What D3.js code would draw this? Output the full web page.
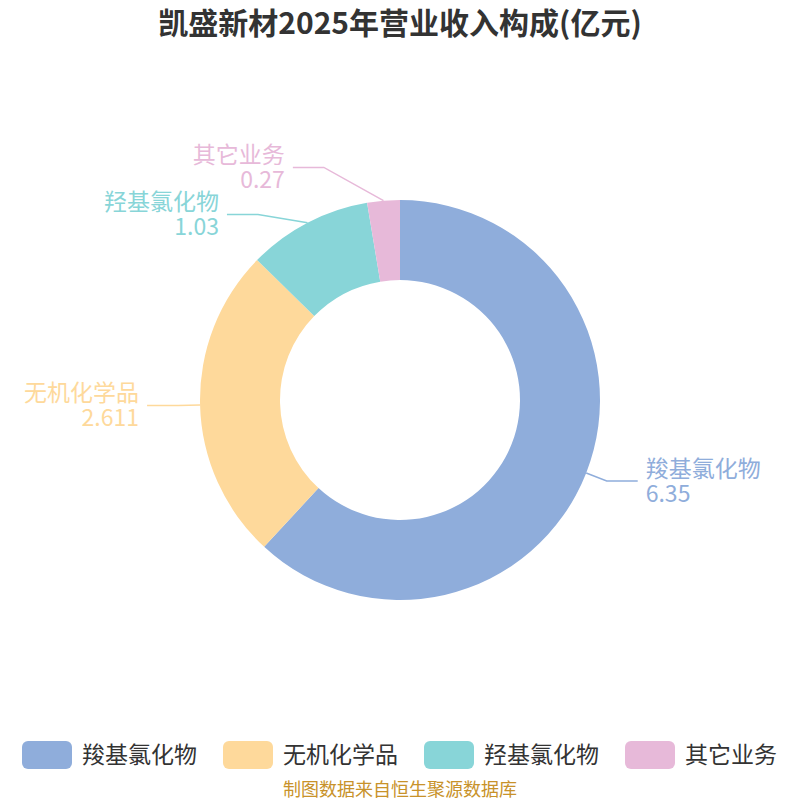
<!DOCTYPE html>
<html>
<head>
<meta charset="utf-8">
<script src="https://cdn.jsdelivr.net/npm/d3@7"></script>
<style>
  body { margin: 0; background: #fff; }
  svg { font-family: "Noto Sans CJK SC", "Noto Sans", sans-serif; }
</style>
</head>
<body>
<div id="chart"></div>
<script>
// data
const categories = ["羧基氯化物", "无机化学品", "羟基氯化物", "其它业务"];
const values = [6.35, 2.611, 1.03, 0.27];
const valueLabels = ["6.35", "2.611", "1.03", "0.27"];
const colors = ["#8faddb", "#fed99b", "#88d5d8", "#e7b9d9"];

const width = 800;
const height = 800;
const cx = 400;
const cy = 400;
const outerR = 200;
const innerR = 120;

const svg = d3.create("svg").attr("width", width).attr("height", height);

// title
svg.append("text")
  .attr("x", width / 2)
  .attr("y", 34)
  .attr("text-anchor", "middle")
  .attr("font-size", 30)
  .attr("font-weight", "bold")
  .attr("fill", "#333")
  .text("凯盛新材2025年营业收入构成(亿元)");

const pie = d3.pie().sort(null).value((d) => d.value);
const arcs = pie(categories.map((c, i) => ({ name: c, value: values[i], label: valueLabels[i], color: colors[i] })));

const arc = d3.arc().innerRadius(innerR).outerRadius(outerR);

const g = svg.append("g").attr("transform", `translate(${cx},${cy})`);

g.selectAll("path.slice")
  .data(arcs)
  .join("path")
  .attr("class", "slice")
  .attr("d", arc)
  .attr("fill", (d) => d.data.color);

// label layout: start point on the rim, elbow a bit further out,
// then nudge elbows on the same side apart so the labels do not collide
const len1 = 22;
const len2 = 31;
const minGap = 47;
const items = arcs.map((d) => {
  const a = (d.startAngle + d.endAngle) / 2;
  const sx = Math.sin(a), sy = -Math.cos(a);
  return {
    d,
    side: sx >= 0 ? 1 : -1,
    p0: [outerR * sx, outerR * sy],
    ey: (outerR + len1) * sy,
    ex: (outerR + len1) * sx,
    moved: false
  };
});

[1, -1].forEach((side) => {
  const list = items.filter((it) => it.side === side).sort((a, b) => a.ey - b.ey);
  for (let iter = 0; iter < 50; iter++) {
    for (let i = 1; i < list.length; i++) {
      const gap = list[i].ey - list[i - 1].ey;
      if (gap < minGap) {
        const push = (minGap - gap) / 2;
        list[i].ey += push;
        list[i - 1].ey -= push;
        list[i].moved = list[i - 1].moved = true;
      }
    }
  }
  // shifted elbows slide along an ellipse around the ring
  const ea = 213, eb = 249;
  list.forEach((it) => {
    if (it.moved) {
      const k = Math.max(0, 1 - (it.ey / eb) ** 2);
      it.ex = side * ea * Math.sqrt(k);
    }
  });
});

items.forEach((it) => {
  const endX = it.ex + it.side * len2;
  g.append("polyline")
    .attr("points", [it.p0, [it.ex, it.ey], [endX, it.ey]].map((p) => p.join(",")).join(" "))
    .attr("fill", "none")
    .attr("stroke", it.d.data.color)
    .attr("stroke-width", 1.5);

  const tx = endX + it.side * 8;
  const t = g.append("text")
    .attr("text-anchor", it.side > 0 ? "start" : "end")
    .attr("fill", it.d.data.color)
    .attr("font-size", 23);
  t.append("tspan").attr("x", tx).attr("y", it.ey - 4).text(it.d.data.name);
  t.append("tspan").attr("x", tx).attr("y", it.ey + 21).text(it.d.data.label);
});

// legend
const legendX = d3.scalePoint().domain(categories).range([22, 625]);
const legend = svg.append("g")
  .selectAll("g")
  .data(categories)
  .join("g")
  .attr("transform", (d) => `translate(${legendX(d)},741)`);

legend.append("rect")
  .attr("width", 50)
  .attr("height", 28)
  .attr("rx", 6)
  .attr("fill", (d, i) => colors[i]);

legend.append("text")
  .attr("x", 60)
  .attr("y", 22)
  .attr("font-size", 23)
  .attr("fill", "#333")
  .text((d) => d);

// source note
svg.append("text")
  .attr("x", width / 2)
  .attr("y", 796)
  .attr("text-anchor", "middle")
  .attr("font-size", 18)
  .attr("fill", "#c8922a")
  .text("制图数据来自恒生聚源数据库");

document.getElementById("chart").appendChild(svg.node());
</script>
</body>
</html>
